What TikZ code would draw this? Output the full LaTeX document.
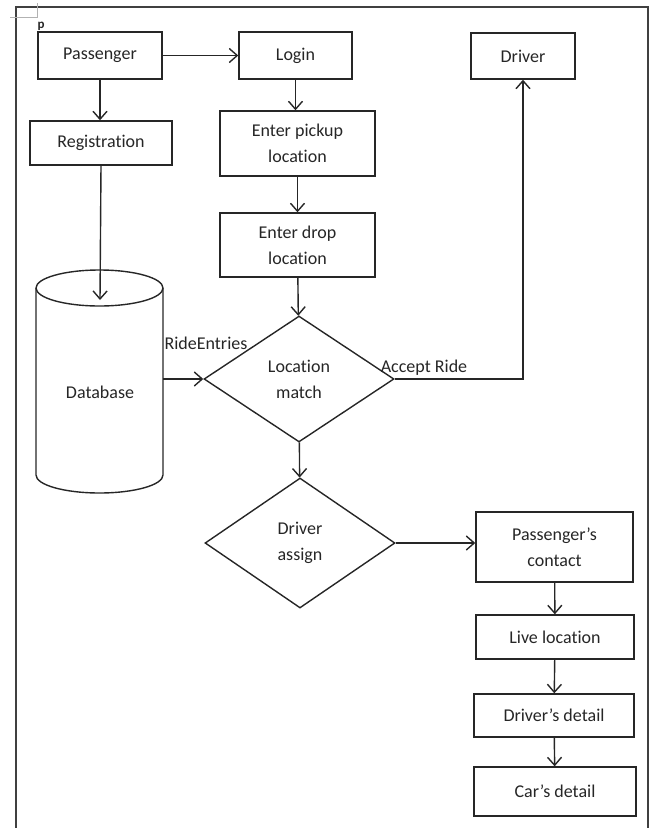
\documentclass[tikz,border=0pt]{standalone}
\usepackage{fontspec}
\setmainfont[Ligatures=NoCommon]{Carlito}
\usetikzlibrary{arrows.meta,shapes.geometric}
\begin{document}
\begin{tikzpicture}[x=1pt,y=-1pt,
  ln/.style={draw=black!85,line width=1.4pt},
  txt/.style={text=black!85,font=\fontsize{18}{26}\selectfont,align=center},
  box/.style={ln,txt,rectangle,inner sep=0pt},
  dia/.style={ln,txt,diamond,inner sep=0pt,aspect=1.5},
  arr/.style={ln,-{Straight Barb[length=8pt,width=14pt,line width=1.4pt]}},
  lbl/.style={txt,inner sep=0pt}]
\useasboundingbox (0,0) rectangle (651,828);
% frame
\draw[ln,draw=black!75,line width=1.6pt] (16,830) -- (16,7) -- (648,7) -- (648,830);
\draw[black!30,line width=0.8pt] (10,17) -- (37,17) -- (37,3);
\node[text=black!85,font=\fontsize{13}{13}\bfseries\selectfont,inner sep=0pt] (pmark) at (41,26) {p};
% nodes
\node[box,minimum width=124,minimum height=47] (pass) at (100,55.5) {Passenger};
\node[box,minimum width=113,minimum height=47] (login) at (295.5,55.5) {Login};
\node[box,minimum width=104,minimum height=46] (driver) at (523,56) {Driver};
\node[box,minimum width=142,minimum height=44] (reg) at (101,143) {Registration};
\node[box,minimum width=155,minimum height=65] (pick) at (297.5,143.5) {Enter pickup\\location};
\node[box,minimum width=155,minimum height=64] (drop) at (297.5,245) {Enter drop\\location};
\node[dia,minimum width=190,minimum height=126] (lm) at (299,379) {Location\\match};
\node[dia,minimum width=190,minimum height=130] (da) at (300,543) {Driver\\assign};
\node[box,minimum width=157,minimum height=70] (pc) at (554.5,547) {Passenger’s\\contact};
\node[box,minimum width=158,minimum height=44] (ll) at (555,637) {Live location};
\node[box,minimum width=160,minimum height=43] (dd) at (554,715.5) {Driver’s detail};
\node[box,minimum width=162,minimum height=49] (cd) at (555,791.5) {Car’s detail};
% database cylinder
\draw[ln] (36,288) arc[start angle=180,end angle=540,x radius=63.5,y radius=18];
\draw[ln] (36,288) -- (36,475) arc[start angle=180,end angle=360,x radius=63.5,y radius=-18] -- (163,288);
\node[lbl] (db) at (100,392) {Database};
\coordinate (dbtop) at (100,300);
\coordinate (dbR) at (163,379);
% labels
\node[lbl] (ride) at (206,343) {RideEntries};
\node[lbl] (acc) at (424,368) {Accept Ride};
% connectors
\draw[arr] (pass) -- (login);
\draw[arr] (pass.south) -- (pass.south |- reg.north);
\draw[arr] (login.south) -- (login.south |- pick.north);
\draw[arr] (pick) -- (drop);
\draw[arr] (drop) -- (lm);
\draw[arr] (reg.south) -- (dbtop);
\draw[arr] (dbR) -- (lm.west);
\draw[arr] (lm.east) -| (driver.south);
\draw[arr] (lm) -- (da);
\draw[arr] (da.east) -- (da.east -| pc.west);
\draw[arr] (pc) -- (ll);
\draw[arr] (ll) -- (dd);
\draw[arr] (dd) -- (cd);
\end{tikzpicture}
\end{document}
